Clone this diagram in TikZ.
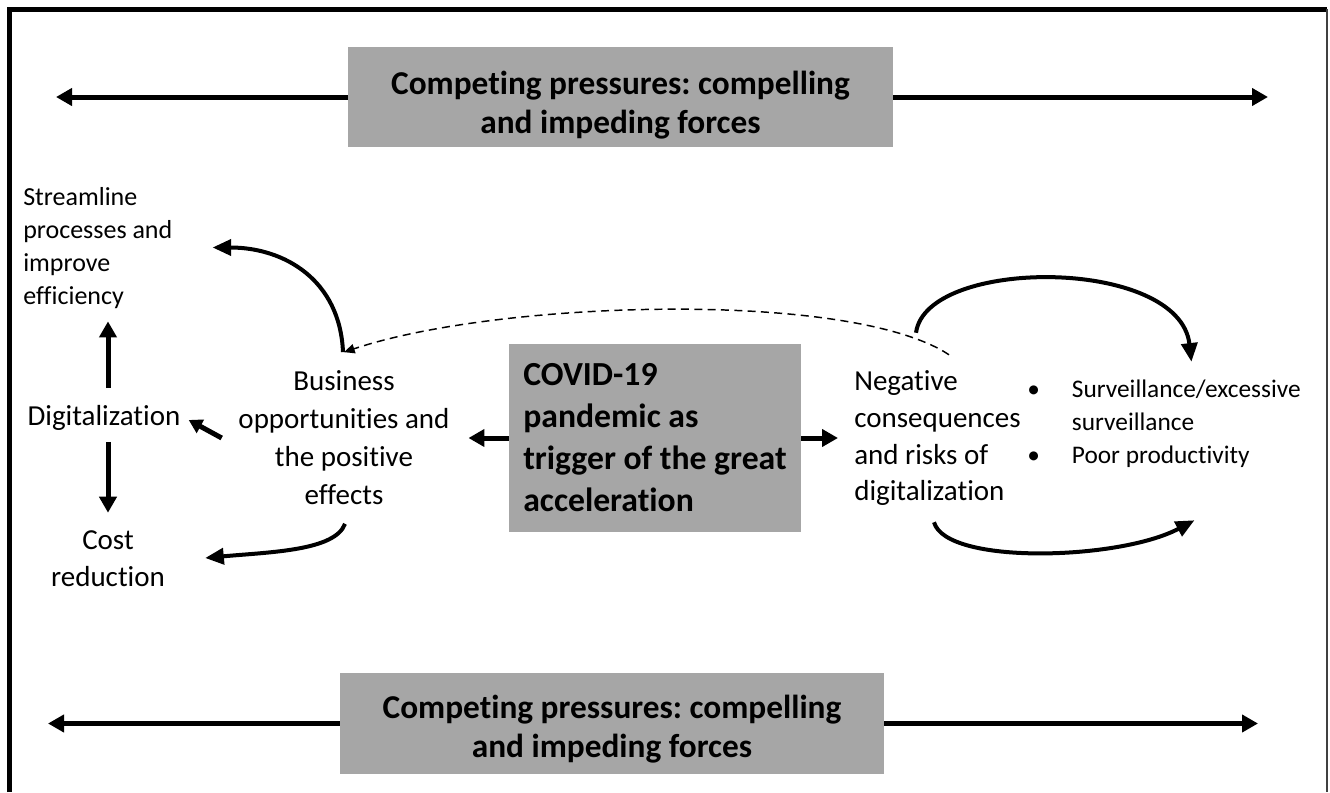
\documentclass[tikz,border=0pt]{standalone}
\usepackage{fontspec}
\setmainfont{Carlito}[Ligatures=NoCommon]
\usetikzlibrary{arrows.meta,calc}
\definecolor{boxgray}{RGB}{166,166,166}
\frenchspacing

\tikzset{
  graybox/.style={fill=boxgray, inner sep=0pt, align=center, font=\bfseries\fontsize{25pt}{29.25pt}\selectfont},
  txt/.style={inner sep=0pt, font=\fontsize{21.75pt}{28.5pt}\selectfont},
  arr/.style={line width=3.75pt, -{Triangle[length=12pt,width=12.75pt]}},
  curvearr/.style={line width=3pt, -{Triangle[length=14pt,width=12pt]}},
}

\begin{document}
\begin{tikzpicture}[x=0.75pt,y=-0.75pt]
\useasboundingbox (0,0) rectangle (1330,792);

\draw[line width=3.5pt] (9.5,792) -- (9.5,9.5) -- (1327,9.5);
\draw[line width=1.5pt, black!75] (1327,9.5) -- (1327,792);

\node[graybox, minimum width=408.75pt, minimum height=75pt] (top) at (620.5,97) {\rule{0pt}{29pt}Competing pressures: compelling\\and impeding forces};
\node[graybox, minimum width=408pt, minimum height=75.75pt] (bottom) at (612,723.5) {\rule{0pt}{26pt}Competing pressures: compelling\\and impeding forces};
\node[graybox, align=left, font=\bfseries\fontsize{25.25pt}{31.5pt}\selectfont, minimum width=219pt, minimum height=141pt] (covid) at (655,438) {COVID-19\\pandemic as\\trigger of the great\\acceleration};

\coordinate (tl) at (56,97);
\coordinate (tr) at (1268,97);
\coordinate (bl) at (48,723.5);
\coordinate (br) at (1258,723.5);
\draw[arr] (top.west) -- (tl);
\draw[arr] (top.east) -- (tr);
\draw[arr] (bottom.west) -- (bl);
\draw[arr] (bottom.east) -- (br);

\node[txt, anchor=west, align=left, font=\fontsize{19.5pt}{24.75pt}\selectfont] (stream) at (23,248.5) {Streamline\\processes and\\improve\\efficiency};
\node[txt] (digit) at (104,418) {Digitalization};
\node[txt, align=center, font=\fontsize{21.75pt}{27.75pt}\selectfont] (cost) at (108,559) {Cost\\reduction};
\node[txt, align=center] (busi) at (344,437.5) {Business\\opportunities and\\the positive\\effects};
\node[txt, anchor=west, align=left, font=\fontsize{21.75pt}{27.5pt}\selectfont] (neg) at (854,438.5) {Negative\\consequences\\and risks of\\digitalization};
\node[txt, anchor=west, font=\fontsize{19pt}{24.75pt}\selectfont] (risk) at (1027,423.5) {\begin{tabular}{@{}l@{\hspace{24pt}}l@{}}\textbullet & Surveillance/excessive\\ & surveillance\\ \textbullet & Poor productivity\end{tabular}};

\draw[arr, shorten >=14pt] (covid.west) -- (covid.west -| busi.east);
\draw[arr, shorten >=12pt] (covid.east) -- (covid.east -| neg.west);

\draw[arr, -{Triangle[length=10pt,width=11pt]}] ($(busi.west)+(-16.5,0.5)$) -- ($(digit.east)+(8,2)$);
\draw[arr, shorten <=12.75pt, shorten >=9pt] (digit.north -| cost) -- (stream.south -| cost);
\draw[arr, shorten <=8.25pt, shorten >=13.5pt] (digit.south -| cost) -- (cost.north);

\draw[line width=1.1pt, dash pattern=on 6pt off 4pt, -{Triangle[length=8pt,width=7pt]}] ($(neg.north)+(11.5,-16)$) .. controls +(-98,-65) and +(155,-52) .. ($(busi.north)+(0,-18)$);

\draw[curvearr] ($(busi.north)+(-1,-18)$) .. controls +(-3,-72) and +(72,0) .. ($(stream.east)+(40,-1)$);
\draw[curvearr] ($(busi.south)+(1,19)$) .. controls +(-10,27) and +(65,-6) .. ($(cost.east)+(40,-1)$);
\draw[curvearr] ($(neg.north)+(-21.5,-38)$) .. controls +(10,-76) and +(-12,-105) .. ($(risk.north)+(27.5,-12)$);
\draw[curvearr] ($(neg.south)+(-3.5,16)$) .. controls +(12,43) and +(-75,40) .. ($(risk.south)+(30.5,47)$);

\end{tikzpicture}
\end{document}
